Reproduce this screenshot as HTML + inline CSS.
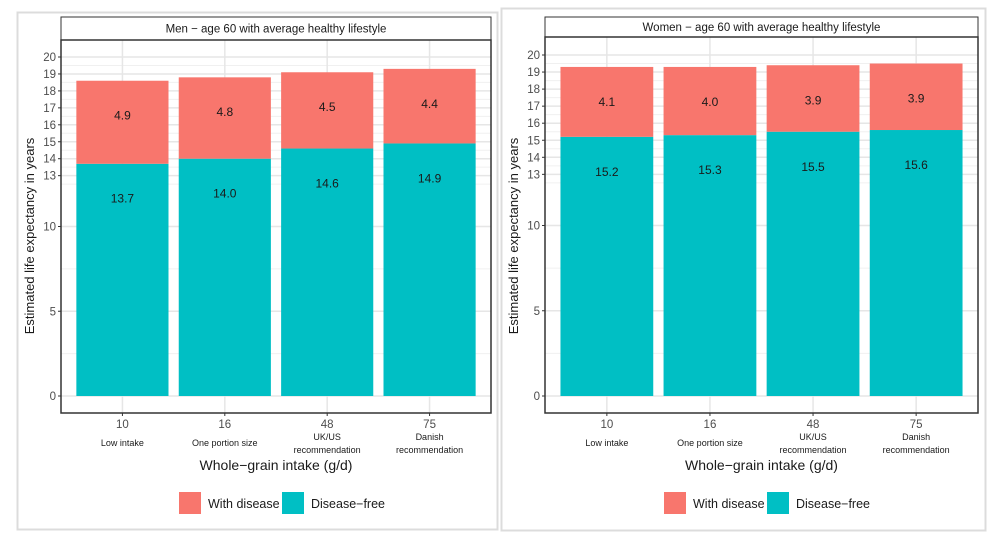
<!DOCTYPE html>
<html><head><meta charset="utf-8"><style>
body{margin:0;background:#fff;width:1002px;height:545px;overflow:hidden;font-family:"Liberation Sans",Arial,sans-serif}
</style></head><body>
<svg id="c" width="1002" height="545" xmlns="http://www.w3.org/2000/svg" font-family="Liberation Sans, Arial, sans-serif"></svg>
<script>
const categories = ["10","16","48","75"];
const catLabels = [["Low intake"],["One portion size"],["UK/US","recommendation"],["Danish","recommendation"]];
const menFree = [13.7,14.0,14.6,14.9];
const menDisease = [4.9,4.8,4.5,4.4];
const womenFree = [15.2,15.3,15.5,15.6];
const womenDisease = [4.1,4.0,3.9,3.9];
const yTicks = [0,5,10,13,14,15,16,17,18,19,20];
const yMinor = [2.5,7.5,12.5,13.5,14.5,15.5,16.5,17.5,18.5,19.5];
const panels = [
 {name:"men",title:"Men \u2212 age 60 with average healthy lifestyle",free:menFree,dis:menDisease,
  box:[17,12,480,517],px0:61,px1:491,strip:17,py0:40,py1:413,y0:396,y20:57,legX:179},
 {name:"women",title:"Women \u2212 age 60 with average healthy lifestyle",free:womenFree,dis:womenDisease,
  box:[501,8,484,522],px0:545,px1:978,strip:17,py0:37,py1:413,y0:396,y20:55,legX:664}
];
const svg=document.getElementById('c');
const NS="http://www.w3.org/2000/svg";
function mk(tag,attrs,parent,text){const e=document.createElementNS(NS,tag);for(const k in attrs)e.setAttribute(k,attrs[k]);if(text!==undefined)e.textContent=text;(parent||svg).appendChild(e);return e;}
panels.forEach(p=>{
 const g=mk('g',{});
 
 
 const b=mk('rect',{x:p.box[0]+.5,y:p.box[1]+.5,width:p.box[2],height:p.box[3],fill:'#fff',stroke:'#dcdcdc','stroke-width':2},g);
 
 
 const yS=v=>p.y0-(p.y0-p.y20)*v/20;
 const n=categories.length, step=(p.px1-p.px0)/(n+0.2);
 const xC=i=>p.px0+step*(0.6+i);
 const bw=step*0.9;
 yMinor.forEach(v=>mk('line',{x1:p.px0,x2:p.px1,y1:yS(v),y2:yS(v),stroke:'#f0f0f0','stroke-width':1},g));
 yTicks.forEach(v=>mk('line',{x1:p.px0,x2:p.px1,y1:yS(v),y2:yS(v),stroke:'#e6e6e6','stroke-width':1.5},g));
 categories.forEach((c,i)=>mk('line',{x1:xC(i),x2:xC(i),y1:p.py0,y2:p.py1,stroke:'#e6e6e6','stroke-width':1.5},g));
 const st=mk('rect',{x:p.px0,y:p.strip,width:p.px1-p.px0,height:p.py0-p.strip,fill:'#fff',stroke:'#333','stroke-width':1},g);
 
 
 const tt=mk('text',{x:(p.px0+p.px1)/2,y:(p.strip+p.py0)/2+4,'text-anchor':'middle','font-size':11.5,fill:'#1a1a1a'},g,p.title);
 
 
 categories.forEach((c,i)=>{
  const f=p.free[i], d=p.dis[i];
  const r1=mk('rect',{x:xC(i)-bw/2,y:yS(f),width:bw,height:yS(0)-yS(f),fill:'#00BFC4'},g);
  
  
  const r2=mk('rect',{x:xC(i)-bw/2,y:yS(f+d),width:bw,height:yS(f)-yS(f+d),fill:'#F8766D'},g);
  
  
  const l1=mk('text',{x:xC(i),y:yS(f-2)+5,'text-anchor':'middle','font-size':12,fill:'#1a1a1a'},g,f.toFixed(1));
  
  
  const l2=mk('text',{x:xC(i),y:yS(f+d-2)+5,'text-anchor':'middle','font-size':12,fill:'#1a1a1a'},g,d.toFixed(1));
  
  
  mk('line',{x1:xC(i),x2:xC(i),y1:p.py1,y2:p.py1+3,stroke:'#333'},g);
  const xt=mk('text',{x:xC(i),y:p.py1+15,'text-anchor':'middle','font-size':11.5,fill:'#4d4d4d'},g,c);
  
  
  const ls=catLabels[i];
  ls.forEach((t,k)=>{const e=mk('text',{x:xC(i),y:(ls.length==1?446:440+k*13),'text-anchor':'middle','font-size':9,fill:'#1a1a1a'},g,t);
   
   });
 });
 mk('rect',{x:p.px0,y:p.py0,width:p.px1-p.px0,height:p.py1-p.py0,fill:'none',stroke:'#333','stroke-width':1.5},g);
 yTicks.forEach(v=>{
  mk('line',{x1:p.px0-3,x2:p.px0,y1:yS(v),y2:yS(v),stroke:'#333'},g);
  const e=mk('text',{x:p.px0-5,y:yS(v)+4,'text-anchor':'end','font-size':11.5,fill:'#4d4d4d'},g,String(v));
  
  
 });
 const yt=mk('text',{transform:`translate(${p.px0-27},236) rotate(-90)`,'text-anchor':'middle','font-size':13,fill:'#1a1a1a'},g,'Estimated life expectancy in years');
 
 
 const xa=mk('text',{x:(p.px0+p.px1)/2,y:470,'text-anchor':'middle','font-size':14,fill:'#1a1a1a'},g,'Whole\u2212grain intake (g/d)');
 
 
 const lg=mk('g',{},g);
 
 
 mk('rect',{x:p.legX,y:492,width:22,height:22,fill:'#F8766D'},lg);
 mk('text',{x:p.legX+29,y:508,'font-size':12.5,fill:'#1a1a1a'},lg,'With disease');
 mk('rect',{x:p.legX+103,y:492,width:22,height:22,fill:'#00BFC4'},lg);
 mk('text',{x:p.legX+132,y:508,'font-size':12.5,fill:'#1a1a1a'},lg,'Disease\u2212free');
});
</script>
</body></html>
